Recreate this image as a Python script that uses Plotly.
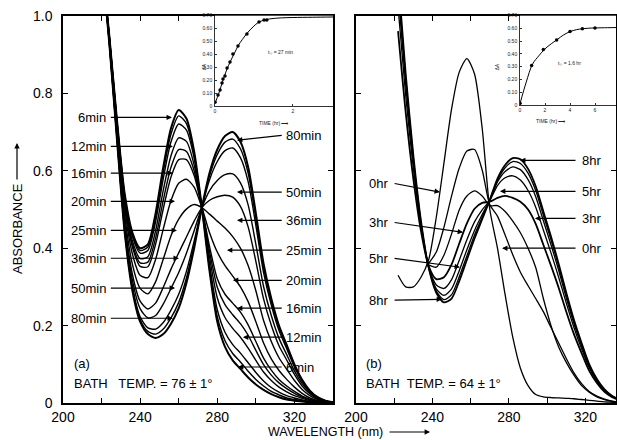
import plotly.graph_objects as go

# ---------------- data: panel (a), BATH TEMP 76 ----------------
wl_a = [220, 224, 228, 232, 236, 240, 244, 248, 252, 256, 260, 264, 268, 272, 276,
        280, 284, 288, 292, 296, 300, 304, 308, 312, 316, 320, 324, 328, 332, 336, 340]

a_s01 = [1.15, 0.95, 0.73, 0.54, 0.44, 0.40, 0.41, 0.49, 0.61, 0.71, 0.757, 0.735, 0.65, 0.505, 0.34,
         0.21, 0.145, 0.11, 0.088, 0.066, 0.048, 0.034, 0.023, 0.015, 0.009, 0.006, 0.004, 0.002, 0.001, 0.0, 0.0]
a_s02 = [1.15, 0.949, 0.728, 0.537, 0.435, 0.394, 0.403, 0.480, 0.597, 0.695, 0.742, 0.722, 0.642, 0.505, 0.348,
         0.223, 0.161, 0.128, 0.106, 0.082, 0.061, 0.044, 0.030, 0.021, 0.013, 0.009, 0.006, 0.003, 0.001, 0.0, 0.0]
a_s03 = [1.15, 0.949, 0.727, 0.533, 0.430, 0.387, 0.394, 0.468, 0.580, 0.675, 0.721, 0.705, 0.633, 0.505, 0.358,
         0.241, 0.183, 0.151, 0.129, 0.104, 0.079, 0.057, 0.040, 0.028, 0.019, 0.013, 0.008, 0.004, 0.002, 0.0, 0.0]
a_s04 = [1.15, 0.947, 0.723, 0.526, 0.419, 0.373, 0.378, 0.445, 0.550, 0.639, 0.685, 0.676, 0.615, 0.505, 0.376,
         0.272, 0.221, 0.193, 0.170, 0.142, 0.110, 0.080, 0.058, 0.041, 0.029, 0.019, 0.012, 0.006, 0.003, 0.001, 0.0]
a_s05 = [1.15, 0.946, 0.72, 0.52, 0.41, 0.362, 0.364, 0.426, 0.524, 0.609, 0.655, 0.65, 0.60, 0.505, 0.391,
         0.299, 0.254, 0.228, 0.205, 0.175, 0.136, 0.099, 0.072, 0.052, 0.037, 0.025, 0.015, 0.008, 0.004, 0.001, 0.0]
a_s06 = [1.15, 0.945, 0.718, 0.515, 0.403, 0.353, 0.352, 0.410, 0.502, 0.584, 0.629, 0.629, 0.588, 0.505, 0.404,
         0.321, 0.281, 0.258, 0.235, 0.202, 0.159, 0.116, 0.085, 0.061, 0.044, 0.030, 0.018, 0.010, 0.005, 0.002, 0.0]
a_s07 = [1.15, 0.943, 0.712, 0.503, 0.385, 0.330, 0.324, 0.371, 0.450, 0.523, 0.568, 0.578, 0.558, 0.505, 0.440,
         0.390, 0.355, 0.328, 0.300, 0.262, 0.210, 0.155, 0.114, 0.084, 0.061, 0.041, 0.025, 0.013, 0.006, 0.002, 0.001]
a_s08 = [1.15, 0.939, 0.703, 0.485, 0.358, 0.296, 0.282, 0.313, 0.372, 0.432, 0.475, 0.501, 0.513, 0.505, 0.488,
         0.470, 0.452, 0.430, 0.400, 0.355, 0.290, 0.213, 0.159, 0.117, 0.087, 0.058, 0.035, 0.019, 0.009, 0.003, 0.001]
a_s09 = [1.15, 0.936, 0.694, 0.468, 0.332, 0.263, 0.243, 0.258, 0.299, 0.346, 0.388, 0.429, 0.470, 0.505, 0.524,
         0.533, 0.537, 0.532, 0.508, 0.455, 0.366, 0.269, 0.201, 0.148, 0.111, 0.074, 0.044, 0.024, 0.011, 0.004, 0.001]
a_s10 = [1.15, 0.934, 0.689, 0.458, 0.317, 0.244, 0.220, 0.226, 0.256, 0.296, 0.337, 0.387, 0.445, 0.505, 0.549,
         0.575, 0.590, 0.592, 0.569, 0.512, 0.410, 0.301, 0.226, 0.167, 0.125, 0.083, 0.050, 0.027, 0.013, 0.005, 0.002]
a_s11 = [1.15, 0.931, 0.684, 0.447, 0.301, 0.223, 0.194, 0.191, 0.208, 0.240, 0.281, 0.340, 0.418, 0.505, 0.577,
         0.624, 0.652, 0.659, 0.634, 0.572, 0.459, 0.337, 0.253, 0.187, 0.140, 0.093, 0.056, 0.030, 0.014, 0.006, 0.002]
a_s12 = [1.15, 0.931, 0.682, 0.443, 0.295, 0.216, 0.185, 0.178, 0.191, 0.220, 0.260, 0.323, 0.408, 0.505, 0.587,
         0.642, 0.674, 0.682, 0.657, 0.594, 0.477, 0.350, 0.263, 0.195, 0.146, 0.097, 0.058, 0.031, 0.015, 0.006, 0.002]
a_s13 = [1.15, 0.93, 0.68, 0.44, 0.29, 0.21, 0.178, 0.168, 0.178, 0.205, 0.245, 0.31, 0.40, 0.505, 0.595,
         0.655, 0.69, 0.70, 0.675, 0.61, 0.49, 0.36, 0.27, 0.20, 0.15, 0.10, 0.06, 0.032, 0.015, 0.006, 0.002]
spectra_a = [a_s01, a_s02, a_s03, a_s04, a_s05, a_s06, a_s07, a_s08, a_s09, a_s10, a_s11, a_s12, a_s13]

# label arrows (a)
a_left_labels = ["6min", "12min", "16min", "20min", "25min", "36min", "50min", "80min"]
a_left_tip_wl = [256.5, 257.0, 257.0, 258.1, 259.1, 260.1, 258.1, 257.0]
a_left_abs = [0.738, 0.663, 0.594, 0.521, 0.446, 0.374, 0.297, 0.219]
a_right_labels = ["80min", "50min", "36min", "25min", "20min", "16min", "12min", "6min"]
a_right_tip_wl = [290.2, 290.2, 290.2, 285.0, 288.1, 290.2, 293.3, 290.7]
a_right_tip_abs = [0.679, 0.545, 0.472, 0.395, 0.317, 0.245, 0.170, 0.093]
a_right_abs = [0.692, 0.545, 0.472, 0.395, 0.317, 0.245, 0.170, 0.093]

# ---------------- data: panel (b), BATH TEMP 64 ----------------
wl_b = [222, 226, 230, 234, 238, 242, 246, 250, 254, 258, 262, 266, 270, 274, 278,
        282, 286, 290, 294, 298, 302, 306, 310, 314, 318, 322, 326, 330, 334, 338]

b_0hr = [0.33, 0.30, 0.30, 0.325, 0.37, 0.48, 0.62, 0.76, 0.855, 0.89, 0.85, 0.71, 0.50, 0.40, 0.28,
         0.17, 0.09, 0.045, 0.022, 0.016, 0.014, 0.013, 0.012, 0.011, 0.009, 0.007, 0.005, 0.003, 0.002, 0.001]
b_1hr = [None, None, None, None, 0.361, 0.390, 0.454, 0.535, 0.607, 0.651, 0.655, 0.602, 0.512, 0.483, 0.434,
         0.383, 0.338, 0.303, 0.27, 0.236, 0.195, 0.155, 0.115, 0.078, 0.05, 0.03, 0.018, 0.01, 0.005, 0.002]
b_2hr = [None, None, None, None, 0.357, 0.351, 0.382, 0.437, 0.499, 0.535, 0.548, 0.535, 0.51, 0.51, 0.495,
         0.47, 0.44, 0.40, 0.35, 0.27, 0.20, 0.145, 0.105, 0.072, 0.045, 0.028, 0.016, 0.009, 0.004, 0.002]
b_3hr = [0.961, 0.751, 0.579, 0.444, 0.354, 0.32, 0.325, 0.358, 0.412, 0.464, 0.502, 0.517, 0.52, 0.53, 0.535,
         0.53, 0.52, 0.50, 0.463, 0.409, 0.355, 0.298, 0.236, 0.178, 0.129, 0.083, 0.052, 0.029, 0.015, 0.007]
b_4hr = [1.023, 0.795, 0.606, 0.456, 0.352, 0.305, 0.296, 0.319, 0.369, 0.422, 0.468, 0.499, 0.523, 0.562, 0.582,
         0.587, 0.576, 0.549, 0.506, 0.447, 0.388, 0.325, 0.258, 0.195, 0.14, 0.091, 0.056, 0.032, 0.016, 0.007]
b_5hr = [1.062, 0.823, 0.623, 0.463, 0.351, 0.295, 0.278, 0.295, 0.342, 0.396, 0.446, 0.487, 0.524, 0.571, 0.598,
         0.61, 0.603, 0.577, 0.533, 0.471, 0.409, 0.343, 0.271, 0.205, 0.148, 0.095, 0.059, 0.033, 0.017, 0.008]
b_6hr = [1.085, 0.839, 0.633, 0.467, 0.35, 0.289, 0.267, 0.28, 0.326, 0.38, 0.434, 0.48, 0.525, 0.576, 0.608,
         0.624, 0.619, 0.594, 0.549, 0.485, 0.422, 0.353, 0.28, 0.211, 0.152, 0.098, 0.061, 0.034, 0.018, 0.008]
b_8hr = [1.10, 0.85, 0.64, 0.47, 0.35, 0.285, 0.26, 0.27, 0.315, 0.37, 0.425, 0.475, 0.525, 0.58, 0.615,
         0.633, 0.63, 0.605, 0.56, 0.495, 0.43, 0.36, 0.285, 0.215, 0.155, 0.10, 0.062, 0.035, 0.018, 0.008]
spectra_b = [b_0hr, b_1hr, b_2hr, b_3hr, b_4hr, b_5hr, b_6hr, b_8hr]

b_left_labels = ["0hr", "3hr", "5hr", "8hr"]
b_left_tip_wl = [243.9, 256.0, 254.4, 245.0]
b_left_tip_abs = [0.545, 0.441, 0.351, 0.268]
b_left_abs = [0.568, 0.467, 0.374, 0.266]
b_right_labels = ["8hr", "5hr", "3hr", "0hr"]
b_right_tip_wl = [285.8, 275.3, 293.6, 276.4]
b_right_abs = [0.627, 0.547, 0.477, 0.40]

# ---------------- data: insets ----------------
inset_a_time = [0, 0.077, 0.13, 0.18, 0.205, 0.256, 0.31, 0.385, 0.46, 0.59, 0.82, 1.13, 1.26, 1.33]
inset_a_val = [0.03, 0.085, 0.124, 0.178, 0.209, 0.233, 0.295, 0.341, 0.403, 0.465, 0.558, 0.651, 0.667, 0.667]
inset_a_fit_t = [0, 0.1, 0.2, 0.3, 0.4, 0.5, 0.6, 0.7, 0.8, 0.9, 1.0, 1.1, 1.2, 1.4, 1.7, 2.0, 2.5, 3.03]
inset_a_fit_v = [0.02, 0.10, 0.195, 0.28, 0.35, 0.41, 0.47, 0.515, 0.555, 0.59, 0.62, 0.645, 0.66, 0.675,
                 0.683, 0.686, 0.688, 0.69]
inset_b_time = [0, 0.93, 1.87, 2.93, 4.0, 4.99, 6.0]
inset_b_val = [0.013, 0.31, 0.435, 0.51, 0.577, 0.598, 0.604]
inset_b_fit_t = [0, 0.5, 1, 1.5, 2, 2.5, 3, 3.5, 4, 4.5, 5, 5.5, 6, 7, 7.68]
inset_b_fit_v = [0.01, 0.18, 0.32, 0.385, 0.44, 0.48, 0.515, 0.55, 0.575, 0.59, 0.598, 0.602, 0.604, 0.606, 0.607]

main_y_ticks = [0, 0.2, 0.4, 0.6, 0.8, 1.0]
main_y_text = ["0", "0.2", "0.4", "0.6", "0.8", "1.0"]
main_x_ticks = [200, 220, 240, 260, 280, 300, 320, 340]
main_x_text = ["200", "", "240", "", "280", "", "320", ""]
inset_y_ticks = [0, 0.1, 0.2, 0.3, 0.4, 0.5, 0.6, 0.7]
inset_y_text = ["0", "0.10", "0.20", "0.30", "0.40", "0.50", "0.60", "0.70"]

# ---------------- figure ----------------
W, H = 617, 440
FONT = "Liberation Sans"
fig = go.Figure()

for i, s in enumerate(spectra_a):
    fig.add_trace(go.Scatter(x=wl_a, y=s, mode="lines", xaxis="x", yaxis="y",
                             line=dict(color="black", width=2.0 if i in (0, 12) else 1.4,
                                       shape="spline", smoothing=0.7),
                             hoverinfo="skip"))
for i, s in enumerate(spectra_b):
    fig.add_trace(go.Scatter(x=wl_b, y=s, mode="lines", xaxis="x2", yaxis="y2",
                             line=dict(color="black", width=1.8 if i in (3, 7) else 1.3,
                                       shape="spline", smoothing=0.7),
                             hoverinfo="skip"))

# insets
fig.add_trace(go.Scatter(x=inset_a_fit_t, y=inset_a_fit_v, mode="lines", xaxis="x3", yaxis="y3",
                         line=dict(color="black", width=1.0, shape="spline"), hoverinfo="skip"))
fig.add_trace(go.Scatter(x=inset_a_time, y=inset_a_val, mode="markers", xaxis="x3", yaxis="y3",
                         marker=dict(color="black", size=3.5), hoverinfo="skip"))
fig.add_trace(go.Scatter(x=inset_b_fit_t, y=inset_b_fit_v, mode="lines", xaxis="x4", yaxis="y4",
                         line=dict(color="black", width=1.0, shape="spline"), hoverinfo="skip"))
fig.add_trace(go.Scatter(x=inset_b_time, y=inset_b_val, mode="markers", xaxis="x4", yaxis="y4",
                         marker=dict(color="black", size=3.5), hoverinfo="skip"))


def px_x(p):
    return p / W


def px_y(p):
    return 1 - p / H


ydom = [px_y(403), px_y(16)]
axis_common = dict(showgrid=False, zeroline=False, showline=True, linecolor="black", linewidth=1.5,
                   mirror="ticks", ticks="inside", ticklen=5, tickwidth=1.2, tickcolor="black",
                   automargin=False, tickfont=dict(family=FONT, size=14, color="black"))

fig.update_layout(
    width=W, height=H, margin=dict(l=0, r=0, t=0, b=0, pad=0, autoexpand=False),
    paper_bgcolor="white", plot_bgcolor="white", showlegend=False,
    font=dict(family=FONT, color="black"),
    xaxis=dict(domain=[px_x(63), px_x(333)], range=[200, 340], tickvals=main_x_ticks,
               ticktext=main_x_text, anchor="y", ticklabelstandoff=0, **axis_common),
    yaxis=dict(domain=ydom, range=[0, 1.0], tickvals=main_y_ticks, ticktext=main_y_text,
               anchor="x", ticklabelstandoff=6, **axis_common),
    xaxis2=dict(domain=[px_x(356), px_x(616)], range=[200, 336], tickvals=main_x_ticks,
                ticktext=main_x_text, anchor="y2", ticklabelstandoff=0, **axis_common),
    yaxis2=dict(domain=ydom, range=[0, 1.0], tickvals=main_y_ticks, showticklabels=False,
                anchor="x2", **axis_common),
)

inset_common = dict(showgrid=False, zeroline=False, showline=True, linecolor="#333", linewidth=0.6,
                    ticks="inside", ticklen=2, tickwidth=0.6, tickcolor="#333", automargin=False,
                    tickfont=dict(family=FONT, size=5, color="#222"))
fig.update_layout(
    xaxis3=dict(domain=[px_x(215), px_x(333)], range=[0, 3.03], tickvals=[0, 2], anchor="y3",
                ticklabelstandoff=0, **inset_common),
    yaxis3=dict(domain=[px_y(106), px_y(15.7)], range=[0, 0.70], tickvals=inset_y_ticks,
                ticktext=inset_y_text, anchor="x3", ticklabelstandoff=1, **inset_common),
    xaxis4=dict(domain=[px_x(520), px_x(616)], range=[0, 7.68], tickvals=[0, 2, 4, 6], anchor="y4",
                ticklabelstandoff=0, **inset_common),
    yaxis4=dict(domain=[px_y(105), px_y(15.7)], range=[0, 0.70], tickvals=inset_y_ticks,
                ticktext=inset_y_text, anchor="x4", ticklabelstandoff=1, **inset_common),
)

ann = []
LBL = dict(family=FONT, size=13, color="black")


def arrow(xref, yref, x, y, ax, ay):
    return dict(xref=xref, yref=yref, axref=xref, ayref=yref, x=x, y=y, ax=ax, ay=ay, text="",
                showarrow=True, arrowhead=2, arrowsize=0.9, arrowwidth=1.2, arrowcolor="black",
                standoff=0, startstandoff=0)


def label(xref, yref, x, y, text, xanchor):
    return dict(xref=xref, yref=yref, x=x, y=y, text=text, showarrow=False, xanchor=xanchor,
                yanchor="middle", font=LBL)


for t, tw, ta in zip(a_left_labels, a_left_tip_wl, a_left_abs):
    ann.append(arrow("x", "y", tw, ta, 224.0, ta))
    ann.append(label("x", "y", 223.2, ta, t, "right"))
for t, tw, tta, ta in zip(a_right_labels, a_right_tip_wl, a_right_tip_abs, a_right_abs):
    ann.append(arrow("x", "y", tw, tta, 314.2, ta))
    ann.append(label("x", "y", 314.6, ta, t, "left"))
for t, tw, tta, ta in zip(b_left_labels, b_left_tip_wl, b_left_tip_abs, b_left_abs):
    ann.append(arrow("x2", "y2", tw, tta, 219.4, ta))
    ann.append(label("x2", "y2", 217.6, ta, t, "right"))
for t, tw, ta in zip(b_right_labels, b_right_tip_wl, b_right_abs):
    ann.append(arrow("x2", "y2", tw, ta, 315.6, ta))
    ann.append(label("x2", "y2", 317.0, ta, t, "left"))

# panel texts
for txt, x0, y0 in [("(a)", 72, 363), ("BATH&nbsp;&nbsp; TEMP. = 76 ± 1°", 72, 383),
                    ("(b)", 364, 363), ("BATH&nbsp; TEMP. = 64 ± 1°", 364, 383)]:
    ann.append(dict(xref="paper", yref="paper", x=px_x(x0), y=px_y(y0), text=txt, showarrow=False,
                    xanchor="left", yanchor="middle", font=dict(family=FONT, size=13, color="black")))

# axis titles
ann.append(dict(xref="paper", yref="paper", x=px_x(17), y=px_y(229), text="ABSORBANCE", textangle=-90,
                showarrow=False, xanchor="center", yanchor="middle",
                font=dict(family=FONT, size=13, color="black")))
ann.append(dict(xref="paper", yref="paper", x=px_x(17), y=px_y(143), ax=0, ay=38, text="",
                showarrow=True, arrowhead=2, arrowsize=0.9, arrowwidth=1.2, arrowcolor="black"))
ann.append(dict(xref="paper", yref="paper", x=px_x(325), y=px_y(432), text="WAVELENGTH (nm)",
                showarrow=False, xanchor="center", yanchor="middle",
                font=dict(family=FONT, size=12.5, color="black")))
ann.append(dict(xref="paper", yref="paper", x=px_x(430), y=px_y(432), ax=-42, ay=0, text="",
                showarrow=True, arrowhead=2, arrowsize=0.9, arrowwidth=1.2, arrowcolor="black"))

# inset texts
tiny = dict(family=FONT, size=5, color="#222")
ann += [
    dict(xref="paper", yref="paper", x=px_x(280), y=px_y(47), text="t<sub>½</sub> = 27 min",
         showarrow=False, font=tiny),
    dict(xref="paper", yref="paper", x=px_x(274), y=px_y(118), text="TIME (hr) ⟶",
         showarrow=False, font=tiny),
    dict(xref="paper", yref="paper", x=px_x(199), y=px_y(62), text="ΔA", textangle=-90,
         showarrow=False, font=tiny),
    dict(xref="paper", yref="paper", x=px_x(583), y=px_y(58), text="t<sub>½</sub> = 1.6 hr",
         showarrow=False, font=tiny),
    dict(xref="paper", yref="paper", x=px_x(568), y=px_y(116), text="TIME (hr) ⟶",
         showarrow=False, font=tiny),
    dict(xref="paper", yref="paper", x=px_x(502), y=px_y(62), text="ΔA", textangle=-90,
         showarrow=False, font=tiny),
]

fig.update_layout(annotations=ann)
fig.write_html("out.html", config={"displayModeBar": False},
               post_script="document.body.style.margin='0';document.body.style.padding='0';")
